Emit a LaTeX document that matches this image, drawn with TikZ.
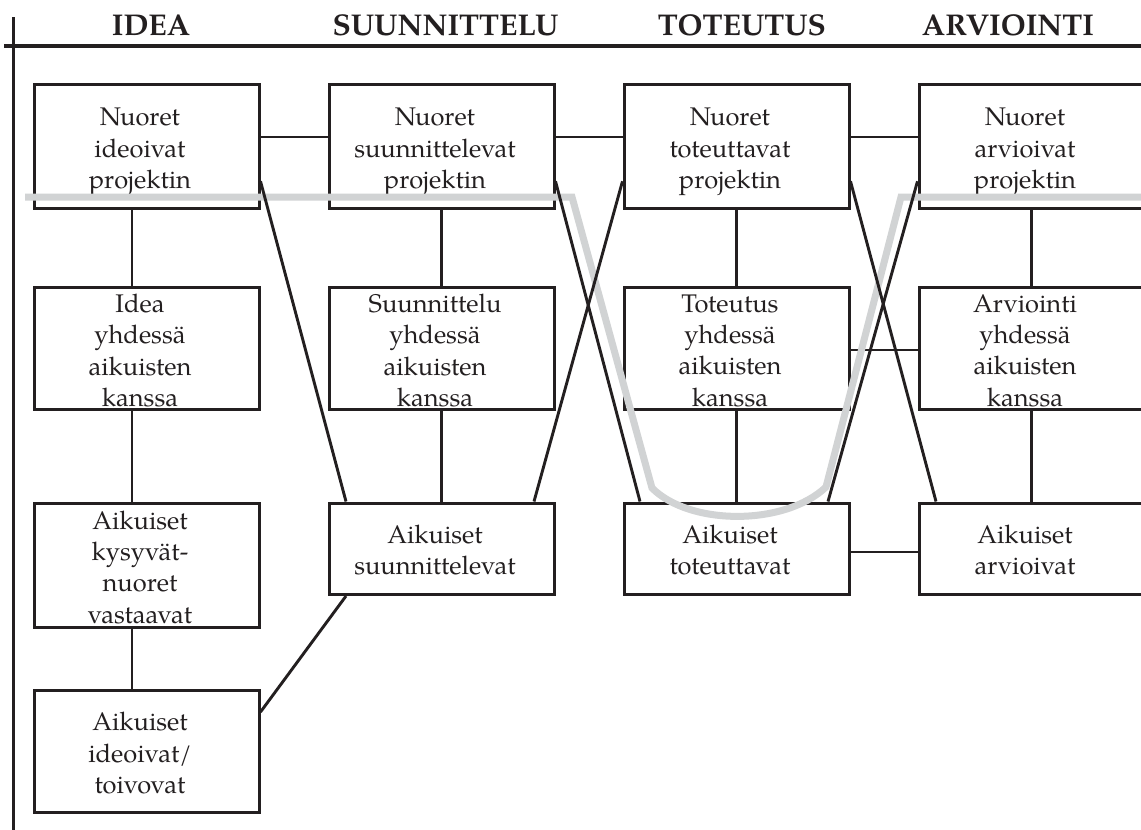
\documentclass[tikz,border=0pt]{standalone}
\usepackage{fontspec}
\setmainfont{texgyrepagella}[Extension=.otf, UprightFont=*-regular, BoldFont=*-bold]
\usetikzlibrary{calc}
\definecolor{ink}{RGB}{35,31,32}
\definecolor{hl}{RGB}{209,211,212}
\begin{document}
\begin{tikzpicture}[x=1pt,y=-1pt,
  box/.style={draw=ink, line width=3pt, minimum width=225pt, inner sep=0pt},
  txt/.style={align=center, font=\fontsize{25.5}{31.3}\selectfont, text=ink, inner sep=0pt, text depth=0pt},
  hdr/.style={font=\fontsize{30}{30}\selectfont\bfseries, text=ink, anchor=base, inner sep=0pt},
  con/.style={draw=ink, line width=2.9pt},
  frame/.style={draw=ink, line width=3.8pt},
  hilite/.style={draw=hl, line width=7pt, miter limit=20}]
\useasboundingbox (0,0) rectangle (1141,830);
\fill[white] (0,0) rectangle (1141,830);

% header
\draw[frame] (13.5,17) -- (13.5,830);
\draw[frame] (4,45.7) -- (1141,45.7);
\node[hdr] (h1) at (151,35) {IDEA};
\node[hdr] (h2) at (445.5,35) {SUUNNITTELU};
\node[hdr] (h3) at (742,35) {TOTEUTUS};
\node[hdr] (h4) at (1008,35) {ARVIOINTI};

% boxes
\node[box, minimum height=123.5pt] (b11) at (146.5,146.25) {};
\node[box, minimum height=123.5pt] (b21) at (441.5,146.25) {};
\node[box, minimum height=123.5pt] (b31) at (736.5,146.25) {};
\node[box, minimum height=123.5pt] (b41) at (1031.5,146.25) {};
\node[box, minimum height=122.5pt] (b12) at (146.5,348.25) {};
\node[box, minimum height=122.5pt] (b22) at (441.5,348.25) {};
\node[box, minimum height=122.5pt] (b32) at (736.5,348.25) {};
\node[box, minimum height=122.5pt] (b42) at (1031.5,348.25) {};
\node[box, minimum height=124pt] (b13) at (146.5,565) {};
\node[box, minimum height=91.5pt] (b23) at (441.5,548.75) {};
\node[box, minimum height=91.5pt] (b33) at (736.5,548.75) {};
\node[box, minimum height=91.5pt] (b43) at (1031.5,548.75) {};
\node[box, minimum height=122pt] (b14) at (146.5,751) {};

% texts
\node[txt] (t11) at ([xshift=-6.5pt,yshift=-2pt]b11.center) {Nuoret\\ideoivat\\projektin};
\node[txt] (t21) at ([xshift=-6.5pt,yshift=-2pt]b21.center) {Nuoret\\suunnittelevat\\projektin};
\node[txt] (t31) at ([xshift=-6.5pt,yshift=-2pt]b31.center) {Nuoret\\toteuttavat\\projektin};
\node[txt] (t41) at ([xshift=-6.5pt,yshift=-2pt]b41.center) {Nuoret\\arvioivat\\projektin};
\node[txt] (t12) at ([xshift=-6.5pt,yshift=-2pt]b12.center) {Idea\\yhdessä\\aikuisten\\kanssa};
\node[txt] (t22) at ([xshift=-6.5pt,yshift=-2pt]b22.center) {Suunnittelu\\yhdessä\\aikuisten\\kanssa};
\node[txt] (t32) at ([xshift=-6.5pt,yshift=-2pt]b32.center) {Toteutus\\yhdessä\\aikuisten\\kanssa};
\node[txt] (t42) at ([xshift=-6.5pt,yshift=-2pt]b42.center) {Arviointi\\yhdessä\\aikuisten\\kanssa};
\node[txt] (t13) at ([xshift=-6.5pt,yshift=-2pt]b13.center) {Aikuiset\\kysyvät-\\nuoret\\vastaavat};
\node[txt] (t23) at ([xshift=-6.5pt,yshift=-1pt]b23.center) {Aikuiset\\suunnittelevat};
\node[txt] (t33) at ([xshift=-6.5pt,yshift=-1pt]b33.center) {Aikuiset\\toteuttavat};
\node[txt] (t43) at ([xshift=-6.5pt,yshift=-1pt]b43.center) {Aikuiset\\arvioivat};
\node[txt] (t14) at ([xshift=-6.5pt,yshift=-2pt]b14.center) {Aikuiset\\ideoivat/\\toivovat};

% horizontal connectors
\draw[con] ([yshift=9.25pt]b11.east) -- ([yshift=9.25pt]b21.west);
\draw[con] ([yshift=9.25pt]b21.east) -- ([yshift=9.25pt]b31.west);
\draw[con] ([yshift=9.25pt]b31.east) -- ([yshift=9.25pt]b41.west);
\draw[con] ([yshift=-1.75pt]b32.east) -- ([yshift=-1.75pt]b42.west);
\draw[con] ([yshift=-3.25pt]b33.east) -- ([yshift=-3.25pt]b43.west);

% vertical connectors
\draw[con] ([xshift=-14.5pt]b11.south) -- ([xshift=-14.5pt]b12.north);
\draw[con] ([xshift=-14.5pt]b12.south) -- ([xshift=-14.5pt]b13.north);
\draw[con] ([xshift=-14.5pt]b13.south) -- ([xshift=-14.5pt]b14.north);
\draw[con] (b21) -- (b22);
\draw[con] (b22) -- (b23);
\draw[con] (b31) -- (b32);
\draw[con] (b32) -- (b33);
\draw[con] (b41) -- (b42);
\draw[con] (b42) -- (b43);

% highlight path
\draw[hilite] (25,197) -- (572,197) -- (652,488)
  .. controls (690,526) and (785,526) .. (826,487) -- (901,197) -- (1145,197);

% diagonal connectors
\draw[con] ([yshift=-35pt]b11.east) -- ([xshift=-95.5pt]b23.north);
\draw[con] ([yshift=-35pt]b21.east) -- ([xshift=-96.5pt]b33.north);
\draw[con] ([yshift=-35pt]b31.west) -- ([xshift=92.5pt]b23.north);
\draw[con] ([yshift=-35pt]b31.east) -- ([xshift=-95.5pt]b43.north);
\draw[con] ([yshift=-35pt]b41.west) -- ([xshift=91.5pt]b33.north);
\draw[con] ([xshift=-95.5pt]b23.south) -- ([yshift=39pt]b14.east);
\end{tikzpicture}
\end{document}
